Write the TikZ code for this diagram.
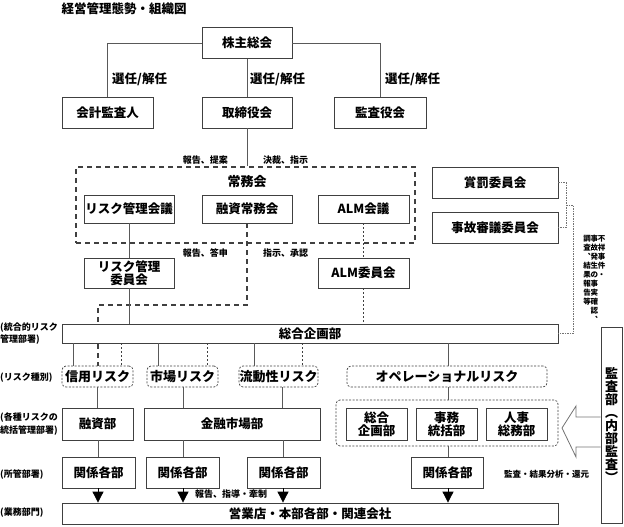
\documentclass[tikz,border=0pt]{standalone}
\usepackage{fontspec}
\setmainfont{Noto Sans CJK JP}
\usetikzlibrary{arrows.meta,backgrounds}
\newcommand\fs[2]{\fontsize{#1}{#2}\selectfont}
\tikzset{
  bx/.style={draw=black!75, line width=0.8pt, fill=white, inner sep=0pt, align=center, font=\fs{12.5}{14}\bfseries},
  lbl/.style={inner sep=0pt, font=\fs{12.5}{14}\bfseries},
  sml/.style={inner sep=0pt, font=\fs{8.5}{10}\bfseries},
  side/.style={inner sep=0pt, align=left, font=\fs{9}{12.5}\bfseries, anchor=west},
  vt/.style={inner sep=0pt, align=center, font=\fs{7.5}{9}\bfseries, anchor=north},
  ln/.style={draw=black!65, line width=0.8pt},
  bigdash/.style={draw=black!75, line width=1.1pt, dash pattern=on 5pt off 4pt},
  fd/.style={draw=black!75, line width=0.7pt, dash pattern=on 2pt off 2pt},
  rbox/.style={draw=black!75, line width=0.7pt, dash pattern=on 2pt off 1.5pt, rounded corners=4pt, fill=white, inner sep=0pt, minimum height=21pt, font=\fs{13}{14}\bfseries},
  brk/.style={draw=black!55, line width=0.7pt, dash pattern=on 1.5pt off 1pt},
  hollow/.style={draw=black!55, line width=0.8pt},
  tri/.style={ln, draw=black, -{Triangle[width=11pt,length=11pt]}},
}
\begin{document}
\begin{tikzpicture}[x=1pt,y=-1pt]
\useasboundingbox (0,0) rectangle (624,527);

% title
\node[lbl] (title) at (124,9) {経営管理態勢・組織図};

% top level
\node[bx, minimum width=90pt, minimum height=31pt] (kabu) at (247,43) {株主総会};
\node[bx, minimum width=91pt, minimum height=31pt] (kaikei) at (107.5,112.5) {会計監査人};
\node[bx, minimum width=90pt, minimum height=31pt] (tori) at (247,112.5) {取締役会};
\node[bx, minimum width=92pt, minimum height=31pt] (kansa) at (380,112.5) {監査役会};
\draw[ln] (kabu.west) -| (kaikei.north);
\draw[ln] (kabu.east) -| (kansa.north);
\draw[ln] (kabu) -- (tori);
\node[lbl, anchor=west] (s1) at (112,79) {選任/解任};
\node[lbl, anchor=west] (s2) at (250,79) {選任/解任};
\node[lbl, anchor=west] (s3) at (385,79) {選任/解任};

% jomukai
\node[bigdash, minimum width=339pt, minimum height=76pt, inner sep=0pt] (jomu) at (245.5,205) {};
\node[lbl, font=\fs{13}{14}\bfseries] (jomut) at (247,182) {常務会};
\draw[ln] (tori.south) -- (tori.south |- jomu.north);
\node[sml, font=\fs{9}{10}\bfseries, anchor=east] (h1) at (228,160) {報告、提案};
\node[sml, font=\fs{9}{10}\bfseries, anchor=west] (h2) at (263,160) {決裁、指示};

\node[bx, minimum width=90pt, minimum height=28pt] (rk) at (129,209) {リスク管理会議};
\node[bx, minimum width=90pt, minimum height=28pt] (yj) at (247,209) {融資常務会};
\node[bx, minimum width=91pt, minimum height=28pt] (ak) at (363.5,209) {ALM会議};

\node[bx, minimum width=90pt, minimum height=30pt, font=\fs{12.5}{13}\bfseries] (ri) at (129,273) {リスク管理\\委員会};
\node[bx, minimum width=91pt, minimum height=30pt] (ai) at (363.5,273) {ALM委員会};
\node[sml, font=\fs{9}{10}\bfseries, anchor=east] (h3) at (228,253) {報告、答申};
\node[sml, font=\fs{9}{10}\bfseries, anchor=west] (h4) at (263,253) {指示、承認};

% committees on right
\node[bx, minimum width=126pt, minimum height=31pt] (sh) at (495,182.5) {賞罰委員会};
\node[bx, minimum width=126pt, minimum height=31pt] (jk) at (495,227.5) {事故審議委員会};

% sogo kikaku
\node[bx, minimum width=496pt, minimum height=19pt] (sogo) at (310,333.5) {総合企画部};

\draw[ln] (rk) -- (ri);
\draw[ln] (ri.south) -- (ri.south |- sogo.north);
\draw[fd] (ak) -- (ai);
\draw[fd] (ai.south) -- (ai.south |- sogo.north);

% bracket
\coordinate (bm) at (566,205);
\draw[brk] (sh.east) -- ++(8,0) |- (jk.east);
\draw[brk] (bm) -- (573,205) |- (sogo.east);
\node[vt] (v1) at (601.5,235) {不\\祥\\事\\件\\・};
\node[vt] (v2) at (594.3,235) {事\\故\\発\\生\\の\\事\\実\\確\\認\\︑};
\node[vt] (v3) at (587,235) {調\\査\\︑\\結\\果\\報\\告\\等};

% risk types
\node[rbox, minimum width=71pt] (shinyo) at (97.5,376.5) {信用リスク};
\node[rbox, minimum width=71pt] (shijo) at (182.5,376.5) {市場リスク};
\node[rbox, minimum width=79pt] (ryudo) at (278.5,376.5) {流動性リスク};
\node[rbox, minimum width=200pt] (opere) at (447,376.5) {オペレーショナルリスク};

\begin{pgfonlayer}{background}
\coordinate (d1) at (247,305);
\coordinate (d2) at (98,305);
\draw[bigdash] (yj.south) -- (d1) -- (d2) -- (d2 |- shinyo.north);
\end{pgfonlayer}

\draw[ln] (73,0 |- sogo.south) -- (73,0 |- shinyo.north);
\draw[fd] (121,0 |- sogo.south) -- (121,0 |- shinyo.north);
\draw[ln] (158,0 |- sogo.south) -- (158,0 |- shijo.north);
\draw[fd] (207,0 |- sogo.south) -- (207,0 |- shijo.north);
\draw[ln] (254,0 |- sogo.south) -- (254,0 |- ryudo.north);
\draw[fd] (302,0 |- sogo.south) -- (302,0 |- ryudo.north);
\draw[ln] (448,0 |- sogo.south) -- (448,0 |- opere.north);

% supervising departments
\node[bx, minimum width=71pt, minimum height=32pt] (yushi) at (97.5,424) {融資部};
\node[bx, minimum width=176pt, minimum height=32pt] (kinyu) at (232,424) {金融市場部};
\node[rbox, minimum width=222pt, minimum height=46pt, fill=none] (grp) at (447,423) {};
\node[bx, minimum width=61pt, minimum height=32pt, font=\fs{12.5}{13}\bfseries] (g1) at (376.5,424) {総合\\企画部};
\node[bx, minimum width=61pt, minimum height=32pt, font=\fs{12.5}{13}\bfseries] (g2) at (446.5,424) {事務\\統括部};
\node[bx, minimum width=61pt, minimum height=32pt, font=\fs{12.5}{13}\bfseries] (g3) at (516.5,424) {人事\\総務部};

\draw[ln] (shinyo) -- (yushi);
\draw[ln] (183,0 |- shijo.south) -- (183,0 |- kinyu.north);
\draw[ln] (282,0 |- ryudo.south) -- (282,0 |- kinyu.north);
\draw[ln] (448,0 |- opere.south) -- (448,0 |- grp.north);

% kankei kakubu
\node[bx, minimum width=73pt, minimum height=31pt] (k1) at (98.5,472.5) {関係各部};
\node[bx, minimum width=73pt, minimum height=31pt] (k2) at (182.5,472.5) {関係各部};
\node[bx, minimum width=73pt, minimum height=31pt] (k3) at (283.5,472.5) {関係各部};
\node[bx, minimum width=72pt, minimum height=31pt] (k4) at (447.5,472.5) {関係各部};

\draw[ln] (98,0 |- yushi.south) -- (98,0 |- k1.north);
\draw[ln] (183,0 |- kinyu.south) -- (183,0 |- k2.north);
\draw[ln] (283,0 |- kinyu.south) -- (283,0 |- k3.north);
\draw[ln] (448,0 |- grp.south) -- (448,0 |- k4.north);

% eigyo
\node[bx, minimum width=496pt, minimum height=21pt] (eig) at (310,513.5) {営業店・本部各部・関連会社};
\draw[tri] (98,0 |- k1.south) -- (98,0 |- eig.north);
\draw[tri] (183,0 |- k2.south) -- (183,0 |- eig.north);
\draw[tri] (283,0 |- k3.south) -- (283,0 |- eig.north);
\draw[tri] (448,0 |- k4.south) -- (448,0 |- eig.north);
\node[sml, font=\fs{9}{10}\bfseries, anchor=west] (h5) at (195,494) {報告、指導・牽制};

% audit
\node[bx, minimum width=21pt, minimum height=196pt, font=\fs{13}{13}\bfseries] (kb) at (611.5,425) {監\\査\\部\\︵\\内\\部\\監\\査\\︶};
\draw[hollow] (kb.west |- 0,417) -- (576,417) -- (576,406) -- (562,428) -- (576,457) -- (576,447) -- (kb.west |- 0,447);
\node[sml, anchor=west] (h6) at (504,474) {監査・結果分析・還元};

% left labels
\node[side] (l1) at (0,333.5) {(統合的リスク\\管理部署)};
\node[side] (l2) at (0,378) {(リスク種別)};
\node[side] (l3) at (0,424) {(各種リスクの\\統括管理部署)};
\node[side] (l4) at (0,475) {(所管部署)};
\node[side] (l5) at (0,513) {(業務部門)};
\end{tikzpicture}
\end{document}
